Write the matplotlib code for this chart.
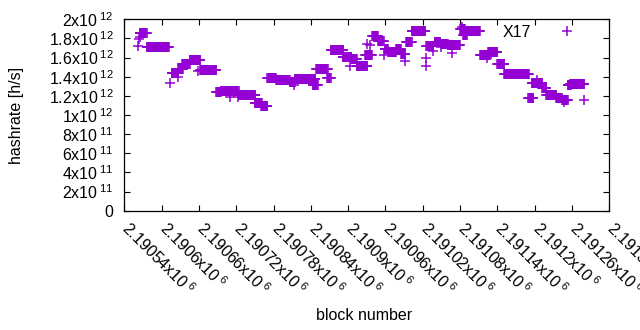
import numpy as np
import matplotlib

matplotlib.use("Agg")
import matplotlib.pyplot as plt
from matplotlib.transforms import ScaledTranslation

plt.rcParams["font.family"] = ["Liberation Sans", "DejaVu Sans"]
plt.rcParams["mathtext.fontset"] = "custom"
plt.rcParams["mathtext.rm"] = "Liberation Sans"

# plateaus of the hashrate estimate: first block, last block, hashrate (1e12 h/s)
SEG_START = [
    2190565, 2190576, 2190616, 2190627, 2190633, 2190645, 2190662, 2190688,
    2190695, 2190711, 2190724, 2190750, 2190760, 2190770, 2190784, 2190806,
    2190814, 2190843, 2190849, 2190866, 2190872, 2190891, 2190905, 2190914,
    2190927, 2190939, 2190948, 2190959, 2190964, 2190977, 2190985, 2190993,
    2191002, 2191026, 2191039, 2191050, 2191060, 2191080, 2191085, 2191088,
    2191112, 2191125, 2191140, 2191151, 2191190, 2191195, 2191212, 2191219,
    2191235, 2191244, 2191253, 2191257,
]
SEG_END = [
    2190576, 2190612, 2190627, 2190634, 2190645, 2190662, 2190688, 2190695,
    2190711, 2190724, 2190751, 2190761, 2190770, 2190784, 2190806, 2190814,
    2190847, 2190851, 2190867, 2190872, 2190892, 2190905, 2190914, 2190931,
    2190938, 2190948, 2190957, 2190964, 2190977, 2190985, 2190992, 2191002,
    2191024, 2191037, 2191048, 2191060, 2191080, 2191088, 2191091, 2191112,
    2191128, 2191140, 2191151, 2191191, 2191198, 2191212, 2191219, 2191235,
    2191244, 2191253, 2191258, 2191280,
]
SEG_RATE = [
    1.854, 1.708, 1.442, 1.484, 1.533, 1.572, 1.467, 1.237,
    1.246, 1.248, 1.204, 1.122, 1.091, 1.390, 1.361, 1.348,
    1.373, 1.313, 1.478, 1.384, 1.676, 1.603, 1.582, 1.512,
    1.624, 1.829, 1.776, 1.693, 1.661, 1.693, 1.634, 1.760,
    1.875, 1.718, 1.760, 1.739, 1.728, 1.899, 1.836, 1.875,
    1.624, 1.655, 1.530, 1.432, 1.178, 1.334, 1.285, 1.209,
    1.181, 1.154, 1.313, 1.327,
]

# isolated blocks
SINGLE_BLOCK = [
    2190562, 2190564, 2190566, 2190613, 2190627, 2190658, 2190710, 2190723,
    2190813, 2190903, 2190931, 2190935, 2190957, 2190991, 2191025, 2191025,
    2191036, 2191049, 2191067, 2191083, 2191124, 2191203, 2191247, 2191280,
]
SINGLE_RATE = [
    1.718, 1.789, 1.820, 1.334, 1.394, 1.463, 1.185, 1.185,
    1.317, 1.509, 1.742, 1.735, 1.630, 1.567, 1.596, 1.509,
    1.672, 1.707, 1.648, 1.916, 1.596, 1.369, 1.136, 1.154,
]

X_TICKS = np.arange(2190540, 2191321, 60)
X_TICK_LABELS = [
    "2.19054", "2.1906", "2.19066", "2.19072", "2.19078", "2.19084", "2.1909",
    "2.19096", "2.19102", "2.19108", "2.19114", "2.1912", "2.19126", "2.19132",
]
Y_TICKS = np.arange(0, 2.01e12, 2e11)
Y_TICK_MANT = ["0", "2", "4", "6", "8", "1", "1.2", "1.4", "1.6", "1.8", "2"]
Y_TICK_EXP = [None, 11, 11, 11, 11, 12, 12, 12, 12, 12, 12]

FS = 11.5


def sci_label(mant, exp):
    if exp is None:
        return mant
    return rf"$\mathregular{{{mant}x10\,}}^{{\mathregular{{{exp}}}}}$"


blocks = [np.arange(s, e + 1) for s, e in zip(SEG_START, SEG_END)]
rates = [np.full(len(b), r) for b, r in zip(blocks, SEG_RATE)]
block = np.concatenate(blocks + [np.array(SINGLE_BLOCK)])
rate = np.concatenate(rates + [np.array(SINGLE_RATE)]) * 1e12

fig = plt.figure(figsize=(6.4, 3.3), dpi=100)
ax = fig.add_axes([0.1942, 0.3615, 0.7578, 0.58])

ax.plot(block, rate, linestyle="none", marker="+", markersize=6.5,
        markeredgewidth=1.1, color="#9400d3", label="X17")

ax.set_xlim(2190540, 2191320)
ax.set_ylim(0, 2e12)
ax.set_xticks(X_TICKS)
ax.set_xticklabels([sci_label(t, 6) for t in X_TICK_LABELS],
                   rotation=-45, ha="left", va="center_baseline",
                   rotation_mode="anchor")
ax.set_yticks(Y_TICKS)
ax.set_yticklabels([sci_label(m, e) for m, e in zip(Y_TICK_MANT, Y_TICK_EXP)],
                   va="center_baseline")
ax.tick_params(direction="in", length=4, width=0.8, top=True, right=True,
               labelsize=FS, colors="black")
ax.tick_params(axis="x", pad=9.5)
ax.tick_params(axis="y", pad=8)
shift = ScaledTranslation(2 / 100, 0, fig.dpi_scale_trans)
for label in ax.get_xticklabels():
    label.set_transform(label.get_transform() + shift)
for spine in ax.spines.values():
    spine.set_linewidth(0.9)

fig.text(17 / 640, 1 - 115 / 330, "hashrate [h/s]", rotation=90,
         ha="center", va="center", fontsize=FS)
fig.text(364 / 640, 1 - 316 / 330, "block number",
         ha="center", va="center", fontsize=FS)

ax.legend(loc="upper right", bbox_to_anchor=(0.945, 0.97), frameon=False,
          markerfirst=False, numpoints=1, handlelength=2, handletextpad=1.2,
          borderaxespad=0, borderpad=0, fontsize=FS)

fig.savefig("out.png", dpi=100)
